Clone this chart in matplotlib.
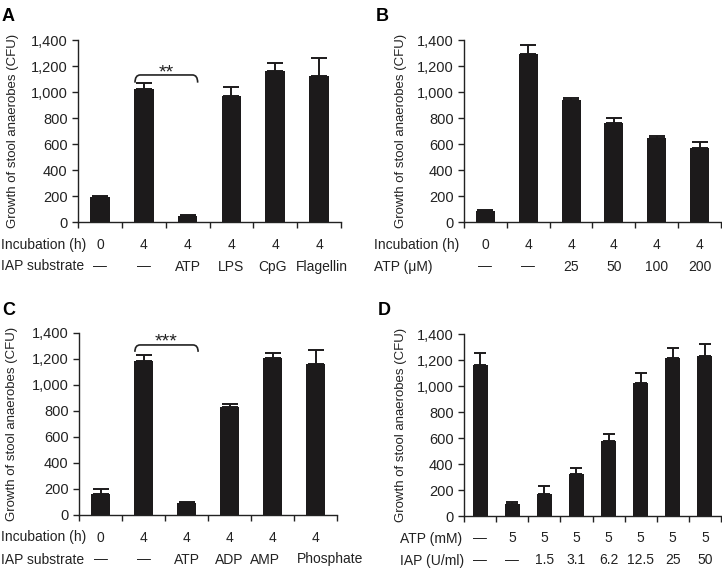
import matplotlib
matplotlib.use('Agg')
import matplotlib.pyplot as plt
import matplotlib.transforms as mtransforms
from matplotlib.path import Path
import matplotlib.patches as mpatches

plt.rcParams['font.family'] = ['Liberation Sans', 'DejaVu Sans']

# ---- data ----
y_ticks = [0, 200, 400, 600, 800, 1000, 1200, 1400]
y_tick_labels = ['0', '200', '400', '600', '800', '1,000', '1,200', '1,400']
y_label = 'Growth of stool anaerobes (CFU)'

a_incubation = ['0', '4', '4', '4', '4', '4']
a_substrate = ['\u2014', '\u2014', 'ATP', 'LPS', 'CpG', 'Flagellin']
a_mean = [192, 1022, 44, 973, 1163, 1124]
a_err = [8, 50, 10, 68, 62, 140]

b_incubation = ['0', '4', '4', '4', '4', '4']
b_atp = ['\u2014', '\u2014', '25', '50', '100', '200']
b_mean = [85, 1295, 936, 763, 643, 572]
b_err = [10, 70, 18, 40, 20, 40]

c_incubation = ['0', '4', '4', '4', '4', '4']
c_substrate = ['\u2014', '\u2014', 'ATP', 'ADP', 'AMP', 'Phosphate']
c_mean = [160, 1182, 92, 832, 1205, 1165]
c_err = [40, 50, 8, 20, 38, 108]

d_atp = ['\u2014', '5', '5', '5', '5', '5', '5', '5']
d_iap = ['\u2014', '\u2014', '1.5', '3.1', '6.2', '12.5', '25', '50']
d_mean = [1165, 92, 172, 322, 577, 1025, 1218, 1228]
d_err = [88, 16, 58, 50, 55, 76, 78, 97]

W, H = 722, 569
BAR = '#1c1a1b'
TXT = '#222222'
fig = plt.figure(figsize=(W / 100, H / 100), dpi=100)


def fx(x):
    return x / W


def fy(y):
    return 1 - y / H


def panel(left, right, top, bottom, mean, err, rows, row_names, row_x,
          letter, letter_xy, ylab_x, width, capsize, nudge=None):
    ax = fig.add_axes([fx(left), fy(bottom), fx(right - left), (bottom - top) / H])
    n = len(mean)
    x = list(range(n))
    ax.bar(x, mean, width=width, color=BAR, zorder=2)
    ax.errorbar(x, mean, yerr=[[0] * n, err], fmt='none', ecolor=BAR,
                elinewidth=1.4, capsize=capsize, capthick=1.4, zorder=3)
    ax.set_xlim(-0.5, n - 0.5)
    ax.set_ylim(0, 1400)
    ax.set_yticks(y_ticks)
    ax.set_yticklabels(y_tick_labels, fontsize=10.5, color=TXT)
    ax.set_xticks([i - 0.5 for i in range(n + 1)])
    ax.set_xticklabels([])
    for s in ['top', 'right']:
        ax.spines[s].set_visible(False)
    for s in ['left', 'bottom']:
        ax.spines[s].set_linewidth(1.0)
        ax.spines[s].set_color(TXT)
    ax.tick_params(length=4.5, width=1.0, color=TXT, pad=3)

    h = bottom - top
    nudge = nudge or {}
    for r, (vals, name) in enumerate(zip(rows, row_names)):
        ya = -(22.5 + 22 * r) / h
        for i, v in enumerate(vals):
            # small pixel shifts so long labels do not run into each other
            off = mtransforms.ScaledTranslation(nudge.get((r, i), 0) / 100, 0,
                                                fig.dpi_scale_trans)
            trans = mtransforms.blended_transform_factory(ax.transData, ax.transAxes) + off
            ax.text(i, ya, v, transform=trans, ha='center', va='center',
                    fontsize=10, color=TXT, clip_on=False)
        fig.text(fx(row_x), fy(bottom + 22.5 + 22 * r), name, ha='left',
                 va='center', fontsize=10, color=TXT)

    fig.text(fx(letter_xy[0]), fy(letter_xy[1]), letter, fontsize=13,
             fontweight='bold', ha='left', va='baseline')
    fig.text(fx(ylab_x), fy((top + bottom) / 2), y_label, rotation=90,
             ha='center', va='center', fontsize=9.5, color=TXT)
    return ax


def bracket(ax, x1, x2, y_low, y_top, stars, star_y):
    dx = 0.12
    verts = [(x1, y_low), (x1, y_top), (x1 + dx, y_top),
             (x2 - dx, y_top), (x2, y_top), (x2, y_low)]
    codes = [Path.MOVETO, Path.CURVE3, Path.CURVE3,
             Path.LINETO, Path.CURVE3, Path.CURVE3]
    ax.add_patch(mpatches.PathPatch(Path(verts, codes), fill=False,
                                    lw=1.2, edgecolor=TXT, clip_on=False))
    ax.text((x1 + x2) / 2, star_y, stars, ha='center', va='baseline',
            fontsize=14, color=TXT)


ax_a = panel(78, 341, 40, 222, a_mean, a_err, [a_incubation, a_substrate],
             ['Incubation (h)', 'IAP substrate'], 1, 'A', (2, 21), 13, 0.45, 6,
             nudge={(1, 4): -3, (1, 5): 3})
bracket(ax_a, 0.8, 2.23, 1072, 1131, '**', 1115)

ax_b = panel(464, 721, 40, 222, b_mean, b_err, [b_incubation, b_atp],
             ['Incubation (h)', 'ATP (\u03bcM)'], 374, 'B', (376, 21), 401, 0.44, 6)

ax_c = panel(79, 337, 333, 515, c_mean, c_err, [c_incubation, c_substrate],
             ['Incubation (h)', 'IAP substrate'], 1, 'C', (2, 315), 12, 0.42, 6,
             nudge={(1, 4): -8, (1, 5): 15})
bracket(ax_c, 0.8, 2.27, 1255, 1308, '***', 1295)

ax_d = panel(464, 721, 334, 516, d_mean, d_err, [d_atp, d_iap],
             ['ATP (mM)', 'IAP (U/ml)'], 400, 'D', (378, 315), 401, 0.47, 4.5)

fig.savefig('out.png', dpi=100)
